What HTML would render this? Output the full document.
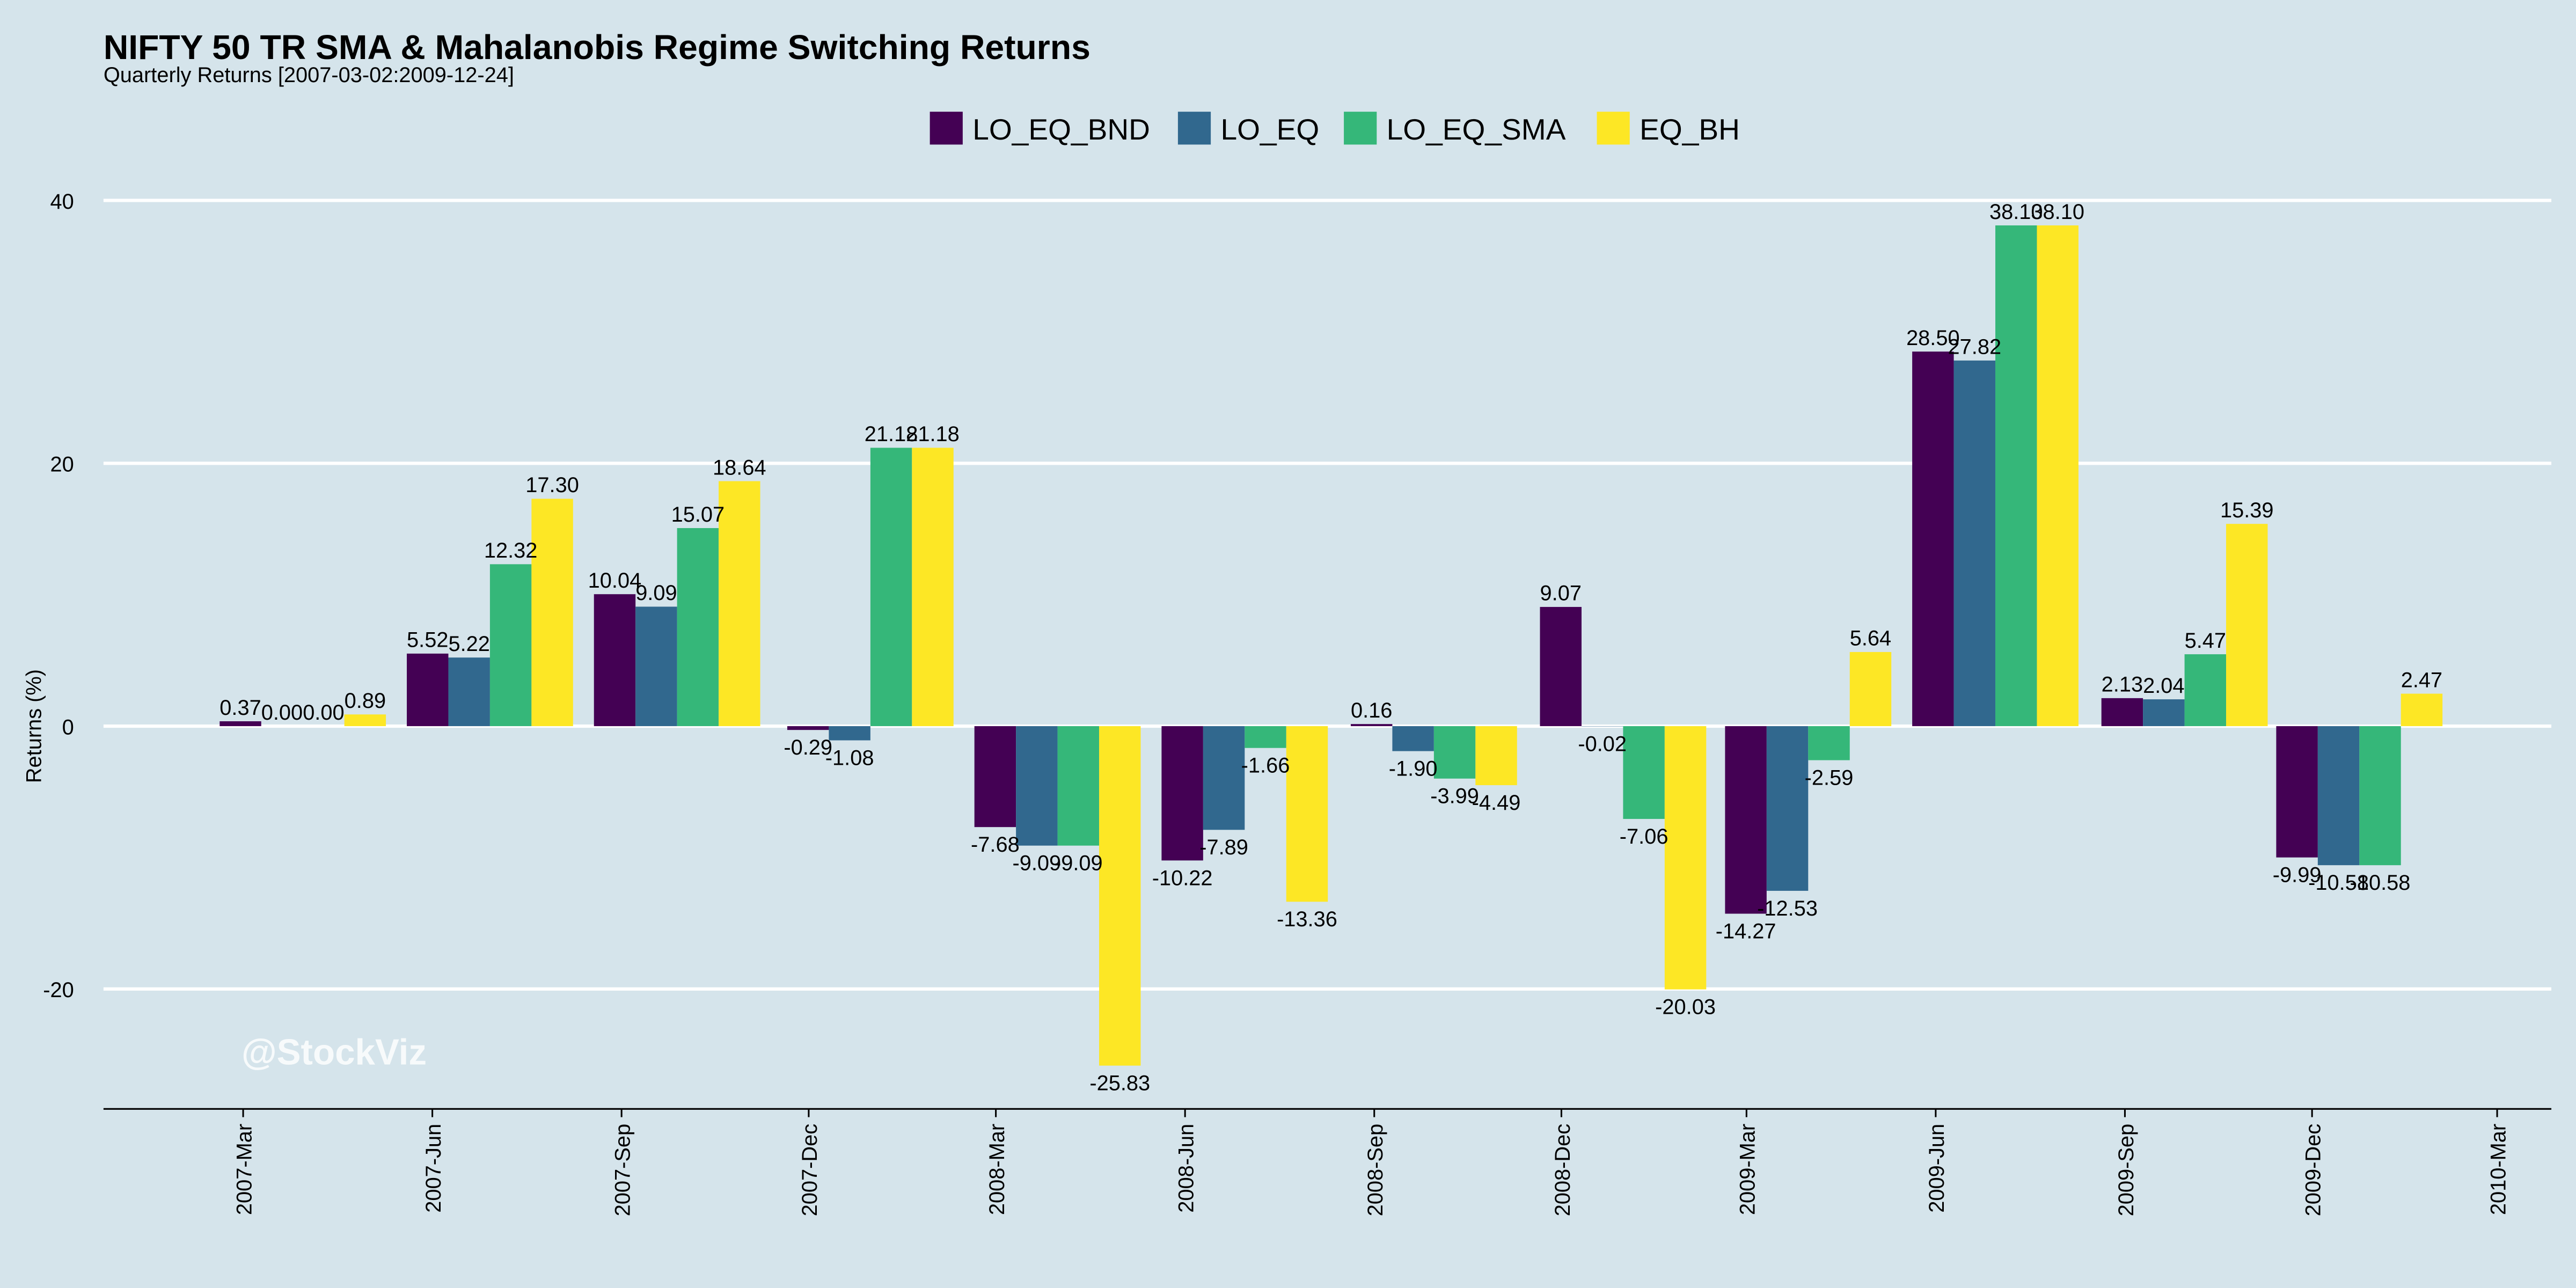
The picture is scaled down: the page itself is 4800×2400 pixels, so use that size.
<!DOCTYPE html>
<html><head><meta charset="utf-8"><style>
html,body{margin:0;padding:0;background:#D5E4EB;}
svg{display:block;font-family:"Liberation Sans",Arial,sans-serif;}
</style></head><body>
<svg id="chart" width="4800" height="2400" viewBox="0 0 1568 784" xmlns="http://www.w3.org/2000/svg">
<rect x="0" y="0" width="1568" height="784" fill="#D5E4EB"/>
<text x="63" y="36" font-size="21" font-weight="bold" fill="#000">NIFTY 50 TR SMA &amp; Mahalanobis Regime Switching Returns</text>
<text x="63" y="50" font-size="13" fill="#000">Quarterly Returns [2007-03-02:2009-12-24]</text>
<g id="legend"></g>
<g id="grid"></g>
<g id="bars"></g>
<g id="labels"></g>
<g id="xaxis"></g>
<text transform="translate(25,442) rotate(-90)" text-anchor="middle" font-size="13" fill="#000">Returns (%)</text>
<text x="147" y="648" font-size="22" font-weight="bold" fill="#ffffff" fill-opacity="0.8">@StockViz</text>
</svg>
<script>
const quarterEnds = ["2007-03-30","2007-06-29","2007-09-28","2007-12-31","2008-03-31","2008-06-30","2008-09-30","2008-12-31","2009-03-31","2009-06-30","2009-09-30","2009-12-24"];
const seriesNames = ["LO_EQ_BND","LO_EQ","LO_EQ_SMA","EQ_BH"];
const seriesColors = ["#440154","#31688E","#35B779","#FDE725"];
const loEqBnd = [0.37,5.52,10.04,-0.29,-7.68,-10.22,0.16,9.07,-14.27,28.50,2.13,-9.99];
const loEq = [0.00,5.22,9.09,-1.08,-9.09,-7.89,-1.90,-0.02,-12.53,27.82,2.04,-10.58];
const loEqSma = [0.00,12.32,15.07,21.18,-9.09,-1.66,-3.99,-7.06,-2.59,38.10,5.47,-10.58];
const eqBh = [0.89,17.30,18.64,21.18,-25.83,-13.36,-4.49,-20.03,5.64,38.10,15.39,2.47];
const yTicks = [40,20,0,-20];
const xTickLabels = ["2007-Mar","2007-Jun","2007-Sep","2007-Dec","2008-Mar","2008-Jun","2008-Sep","2008-Dec","2009-Mar","2009-Jun","2009-Sep","2009-Dec","2010-Mar"];
const xTickDates = ["2007-03-01","2007-06-01","2007-09-01","2007-12-01","2008-03-01","2008-06-01","2008-09-01","2008-12-01","2009-03-01","2009-06-01","2009-09-01","2009-12-01","2010-03-01"];

const NS="http://www.w3.org/2000/svg";
const series=[loEqBnd,loEq,loEqSma,eqBh];
const PL=63,PR=1553,AXY=675;
const t0=Date.parse("2007-03-01"),t1=Date.parse("2010-03-01");
function x(d){return 148+(Date.parse(d)-t0)/(t1-t0)*(1520-148);}
function y(v){return 442-v*8;}
function mk(tag,attrs,parent){const e=document.createElementNS(NS,tag);for(const k in attrs)e.setAttribute(k,attrs[k]);parent.appendChild(e);return e;}
const grid=document.getElementById('grid');
yTicks.forEach(v=>{
  const l=mk('line',{x1:PL,x2:PR,y1:y(v),y2:y(v),stroke:'#fff','stroke-width':2},grid);
  
  
  const t=mk('text',{x:45,y:y(v)+5,'text-anchor':'end','font-size':13,fill:'#000'},grid);
  t.textContent=v;
  
  
});
const xa=document.getElementById('xaxis');
const ax=mk('line',{x1:PL,x2:PR,y1:AXY,y2:AXY,stroke:'#000','stroke-width':1},xa);


xTickDates.forEach((d,i)=>{
  const xx=x(d);
  const tk=mk('line',{x1:xx,x2:xx,y1:AXY,y2:AXY+5,stroke:'#000'},xa);
  
  
  const t=mk('text',{transform:`translate(${xx+5},${AXY+9}) rotate(-90)`,'text-anchor':'end','font-size':13,fill:'#000'},xa);
  t.textContent=xTickLabels[i];
  
  
});
const bars=document.getElementById('bars'),labels=document.getElementById('labels');
const bw=25.3;
quarterEnds.forEach((d,qi)=>{
  const c=x(d);
  series.forEach((s,si)=>{
    const v=s[qi];
    const bx=c-2*bw+si*bw;
    const r=mk('rect',{x:bx,y:Math.min(y(v),y(0)),width:bw,height:Math.abs(y(v)-y(0)),fill:seriesColors[si]},bars);
    
    
    const t=mk('text',{x:bx+bw/2,y:v>=0?y(v)-4:y(v)+15,'text-anchor':'middle','font-size':13,fill:'#000'},labels);
    t.textContent=v.toFixed(2);
    
    
  });
});
const lg=document.getElementById('legend');
const lx=[566,717,818,972];
seriesNames.forEach((n,i)=>{
  const r=mk('rect',{x:lx[i],y:68,width:20,height:20,fill:seriesColors[i]},lg);
  
  
  const t=mk('text',{x:lx[i]+26,y:85,'font-size':18,fill:'#000'},lg);
  t.textContent=n;
  
  
});
</script>
</body></html>
